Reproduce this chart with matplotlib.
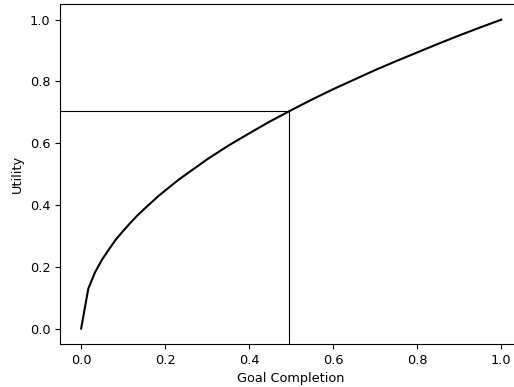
import matplotlib
matplotlib.use('Agg')
import matplotlib.pyplot as plt

# Goal completion vs utility
completion = [0.0, 0.017, 0.033, 0.05, 0.067, 0.083, 0.1, 0.117, 0.133, 0.15, 0.167,
              0.183, 0.2, 0.233, 0.267, 0.3, 0.35, 0.4, 0.45, 0.5, 0.55, 0.6,
              0.65, 0.7, 0.75, 0.8, 0.85, 0.9, 0.95, 1.0]
utility = [0.0, 0.129, 0.182, 0.224, 0.258, 0.289, 0.316, 0.342, 0.365, 0.387, 0.408,
           0.428, 0.447, 0.483, 0.516, 0.548, 0.592, 0.632, 0.671, 0.707, 0.742, 0.775,
           0.806, 0.837, 0.866, 0.894, 0.922, 0.949, 0.975, 1.0]

# marked point
mark_x = 0.495
mark_y = 0.704

fig, ax = plt.subplots(figsize=(5.14, 3.87), dpi=100)
fig.subplots_adjust(left=0.117, right=1.016, bottom=0.111, top=0.989)

ax.plot(completion, utility, color='black', linewidth=1.5)
ax.set_xlim(-0.05, 1.05)
ax.set_ylim(-0.05, 1.05)

xmin, _ = ax.get_xlim()
ymin, _ = ax.get_ylim()
ax.plot([xmin, mark_x], [mark_y, mark_y], color='black', linewidth=0.8)
ax.plot([mark_x, mark_x], [ymin, mark_y], color='black', linewidth=0.8)

ax.set_xlabel('Goal Completion', fontsize=9.3)
ax.set_ylabel('Utility', fontsize=9.3)
ax.tick_params(labelsize=9.3)

plt.savefig('out.png', dpi=100)
